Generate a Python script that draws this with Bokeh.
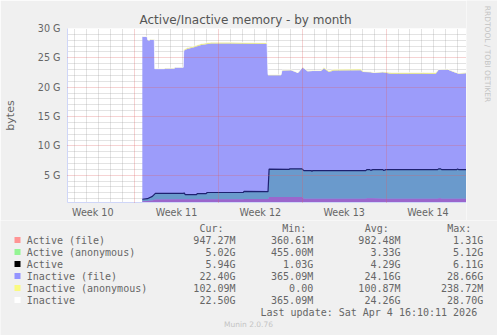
import math
from bokeh.plotting import figure
from bokeh.layouts import column, row
from bokeh.models import Label, FixedTicker, Grid, Range1d
from bokeh.embed import file_html
from bokeh.resources import INLINE

# ---- data (x in days from the start of Week 11, y in G bytes) ----
inactive_days = [0.64, 1.03, 1.10, 1.25, 1.31, 1.64, 1.68, 2.48, 2.56, 3.31, 3.39, 4.06,
                 4.10, 4.39, 4.97, 5.56, 6.39, 8.06, 11.06, 11.14, 12.23, 12.31, 13.06,
                 13.64, 14.03, 14.45, 14.89, 15.56, 15.81, 16.23, 16.64, 18.89, 19.06,
                 19.72, 19.97, 20.73, 21.39, 24.14, 24.48, 25.14, 25.39, 26.14, 26.64,
                 27.06, 27.72]
inactive_file = [28.6, 28.6, 28.0, 28.0, 28.1, 28.1, 23.1, 23.1, 23.2, 23.2, 23.35, 23.35,
                 26.2, 26.5, 26.8, 27.2, 27.45, 27.45, 27.35, 22.05, 22.05, 22.85, 22.9,
                 22.4, 23.35, 22.7, 22.75, 22.75, 23.2, 22.6, 22.85, 22.9, 22.6, 22.55,
                 22.4, 22.55, 22.3, 22.3, 22.25, 22.25, 22.95, 23.0, 22.6, 22.3, 22.4]
inactive_anon = [0.05, 0.05, 0.05, 0.05, 0.05, 0.05, 0.05, 0.05, 0.05, 0.05, 0.05, 0.05,
                 0.2, 0.2, 0.2, 0.2, 0.2, 0.2, 0.2, 0.08, 0.08, 0.08, 0.08, 0.08, 0.08,
                 0.08, 0.08, 0.08, 0.15, 0.15, 0.2, 0.2, 0.1, 0.1, 0.1, 0.1, 0.2, 0.2,
                 0.2, 0.2, 0.08, 0.08, 0.08, 0.08, 0.1]

active_days = [0.64, 1.06, 1.48, 1.73, 4.06, 4.14, 4.23, 5.14, 5.23, 5.97, 6.06, 9.06,
               9.14, 11.14, 11.23, 12.89, 12.97, 13.98, 14.14, 14.73, 14.81, 14.89, 19.31,
               19.39, 19.64, 19.72, 19.89, 20.73, 20.81, 20.98, 25.31, 25.39, 25.56, 25.64,
               26.89, 26.98, 27.06, 27.72]
active_total = [0.9, 1.0, 1.4, 1.9, 1.9, 1.98, 1.68, 1.68, 1.85, 1.85, 2.05, 2.05, 2.25,
                2.2, 6.05, 6.0, 6.08, 6.08, 5.78, 5.78, 5.7, 5.78, 5.78, 5.95, 5.95, 5.82,
                5.95, 5.95, 5.8, 5.95, 5.95, 6.08, 6.08, 5.95, 5.95, 6.08, 5.95, 5.94]
active_file = [0.55, 0.6, 0.7, 0.85, 0.9, 0.9, 0.9, 0.9, 0.9, 0.9, 0.9, 0.9, 0.95,
               0.95, 1.3, 1.3, 1.3, 1.3, 1.0, 1.0, 1.0, 1.0, 1.0, 1.08, 1.08, 1.08,
               1.08, 1.0, 1.0, 1.0, 1.0, 1.06, 1.06, 1.0, 1.0, 1.0, 1.0, 1.0]

y_ticks = [5, 10, 15, 20, 25, 30]
y_labels = ["5 G", "10 G", "15 G", "20 G", "25 G", "30 G"]
week_ticks = [-3.5, 3.5, 10.5, 17.5, 24.5]
week_labels = ["Week 10", "Week 11", "Week 12", "Week 13", "Week 14"]
week_lines = [0, 7, 14, 21]
day_lines = [-5, -4, -3, -2, -1, 1, 2, 3, 4, 5, 6, 8, 9, 10, 11, 12, 13, 15, 16, 17, 18,
             19, 20, 22, 23, 24, 25, 26, 27]

legend_names = ["Active (file)", "Active (anonymous)", "Active", "Inactive (file)",
                "Inactive (anonymous)", "Inactive"]
legend_colors = ["#FF9494", "#94F594", "#000000", "#9494FF", "#FAFA80", "#FFFFFF"]
cur_vals = ["947.27M", "5.02G", "5.94G", "22.40G", "102.09M", "22.50G"]
min_vals = ["360.61M", "455.00M", "1.03G", "365.09M", "0.00", "365.09M"]
avg_vals = ["982.48M", "3.33G", "4.29G", "24.16G", "100.87M", "24.26G"]
max_vals = ["1.31G", "5.12G", "6.11G", "28.66G", "238.72M", "28.70G"]
last_update = "Last update: Sat Apr  4 16:10:11 2026"

FONT = "DejaVu Sans"
MONO = "DejaVu Sans Mono"
TXT = "#666666"
BG = "#F0F0F0"
W = 497
TOP_H = 220
LEG_H = 335 - TOP_H
SIDE_W = 31

# ---- chart figure ----
p = figure(width=W - SIDE_W, height=TOP_H, output_backend="svg", toolbar_location=None,
           x_range=Range1d(-5.61, 27.72), y_range=Range1d(0.35, 30),
           min_border_left=66, min_border_right=0, min_border_top=28,
           min_border_bottom=17)
p.frame_align = False
p.background_fill_color = "#FFFFFF"
p.border_fill_color = BG
p.outline_line_color = None

p.title.text = "Active/Inactive memory - by month"
p.title.align = "left"
p.title.offset = 72
p.title.standoff = 3
p.title.text_font = FONT
p.title.text_font_size = "12px"
p.title.text_font_style = "normal"
p.title.text_color = "#555555"

for ax in (p.xaxis[0], p.yaxis[0]):
    ax.axis_line_color = "#CFD6F8"
    ax.major_tick_line_color = None
    ax.minor_tick_line_color = None
    ax.major_tick_out = 0
    ax.major_tick_in = 0
    ax.minor_tick_out = 0
    ax.minor_tick_in = 0
    ax.major_label_text_font = FONT
    ax.major_label_text_font_size = "9.6px"
    ax.major_label_text_color = TXT

p.xaxis.ticker = FixedTicker(ticks=week_ticks)
p.xaxis.major_label_overrides = dict(zip(week_ticks, week_labels))
p.xaxis.major_label_standoff = 4
p.yaxis.ticker = FixedTicker(ticks=y_ticks)
p.yaxis.major_label_overrides = dict(zip(y_ticks, y_labels))
p.yaxis.major_label_standoff = 7
p.yaxis.axis_label = "bytes"
p.yaxis.axis_label_text_font = FONT
p.yaxis.axis_label_text_font_size = "11px"
p.yaxis.axis_label_text_font_style = "normal"
p.yaxis.axis_label_text_color = TXT
p.yaxis.axis_label_standoff = 18

# grids
p.xgrid.visible = False
p.ygrid.visible = False
minor_y = [v for v in range(1, 30) if v % 5 != 0]
g1 = Grid(dimension=0, ticker=FixedTicker(ticks=day_lines), grid_line_color="#8F8F8F",
          grid_line_alpha=0.5, grid_line_dash="1 1", level="underlay")
g2 = Grid(dimension=1, ticker=FixedTicker(ticks=minor_y), grid_line_color="#8F8F8F",
          grid_line_alpha=0.5, grid_line_dash="1 1", level="underlay")
g3 = Grid(dimension=0, ticker=FixedTicker(ticks=week_lines), grid_line_color="#E06060",
          grid_line_alpha=0.55, grid_line_dash="1 1", level="overlay")
g4 = Grid(dimension=1, ticker=FixedTicker(ticks=y_ticks), grid_line_color="#E06060",
          grid_line_alpha=0.55, grid_line_dash="1 1", level="overlay")
for g in (g1, g2, g3, g4):
    p.add_layout(g)

# ---- data glyphs ----
inactive_total = [a + b for a, b in zip(inactive_file, inactive_anon)]
zeros_i = [0] * len(inactive_days)
zeros_a = [0] * len(active_days)
p.varea(x=inactive_days, y1=zeros_i, y2=inactive_file, fill_color="#9C9CFA")
p.varea(x=inactive_days, y1=inactive_file, y2=inactive_total, fill_color="#E2E27A")
p.line(x=inactive_days, y=inactive_total, line_color="#FFFFFF", line_width=1, line_alpha=0.7)
p.varea(x=active_days, y1=active_file, y2=active_total, fill_color="#6A9ACC")
p.varea(x=active_days, y1=zeros_a, y2=active_file, fill_color="#9A66CC")
p.line(x=active_days, y=active_total, line_color="#1E2170", line_width=1.2)


def strip(width, height, x0, y0):
    """A text-only panel whose frame is the whole strip; y counts page pixel rows."""
    f = figure(width=width, height=height, output_backend="svg", toolbar_location=None,
               x_range=Range1d(x0, x0 + width), y_range=Range1d(y0 + height, y0),
               min_border_left=0, min_border_right=0, min_border_top=0,
               min_border_bottom=0, x_axis_location=None, y_axis_location=None)
    f.frame_align = False
    f.background_fill_color = BG
    f.border_fill_color = BG
    f.outline_line_color = None
    f.xgrid.visible = False
    f.ygrid.visible = False
    return f


def put(fig, text, x, y, size="10px", font=MONO, color=TXT, align="left", angle=0.0):
    fig.add_layout(Label(x=x, y=y, text=text, text_font=font, text_font_size=size,
                         text_color=color, text_align=align, text_baseline="middle",
                         angle=angle))


# ---- right strip with the rrdtool credit ----
r = strip(SIDE_W, TOP_H, W - SIDE_W, 0)
put(r, "RRDTOOL / TOBI OETIKER", 487, 53.5, size="7.5px", font=FONT, color="#C4C4C4",
    align="center", angle=-math.pi / 2)

# ---- legend strip ----
q = strip(W, LEG_H, 0, TOP_H)
hdr_y = 227.8
put(q, "Cur:", 199, hdr_y)
put(q, "Min:", 281.7, hdr_y)
put(q, "Avg:", 364.3, hdr_y)
put(q, "Max:", 446.7, hdr_y)
row_y = [239.6 + 12 * i for i in range(len(legend_names))]
q.scatter(x=[17] * len(row_y), y=row_y, marker="square", size=6,
          fill_color=legend_colors, line_color=None)
for i, name in enumerate(legend_names):
    cy = row_y[i]
    put(q, name, 26.3, cy)
    put(q, cur_vals[i], 235, cy, align="right")
    put(q, min_vals[i], 312.7, cy, align="right")
    put(q, avg_vals[i], 400, cy, align="right")
    put(q, max_vals[i], 482.7, cy, align="right")
put(q, last_update, 482.7, 311.6, align="right")
put(q, "Munin 2.0.76", 248, 324, size="7.5px", font=FONT, color="#C4C4C4", align="center")

layout = column(row(p, r, spacing=0), q, spacing=0)
open("out.html", "w").write(file_html(layout, INLINE))
